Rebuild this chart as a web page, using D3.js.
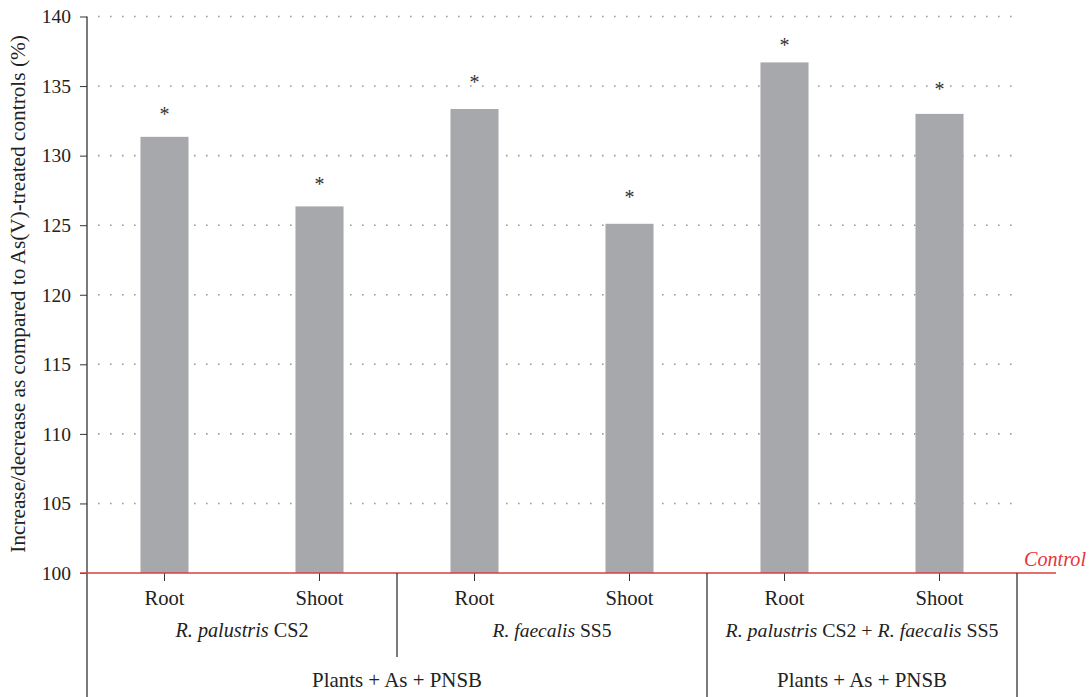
<!DOCTYPE html>
<html><head><meta charset="utf-8">
<script src="https://cdn.jsdelivr.net/npm/d3@7"></script>
<style>body{margin:0;background:#fff}svg{display:block;font-family:"Liberation Serif","Times New Roman",serif}</style>
</head><body><svg id="c" width="1090" height="697"></svg>
<script>
const categories = ["Root","Shoot","Root","Shoot","Root","Shoot"];
const values = [131.35, 126.35, 133.35, 125.1, 136.7, 133.0];
const starLevels = [133.2, 128.15, 135.5, 127.2, 138.15, 135.0];
const yTicks = [100,105,110,115,120,125,130,135,140];
const strains = [
  {label:[["R. palustris",true],[" CS2",false]], from:0, to:1},
  {label:[["R. faecalis",true],[" SS5",false]], from:2, to:3},
  {label:[["R. palustris",true],[" CS2 + ",false],["R. faecalis",true],[" SS5",false]], from:4, to:5}
];
const treatments = [
  {label:"Plants + As + PNSB", from:0, to:3},
  {label:"Plants + As + PNSB", from:4, to:5}
];
const yLabel = "Increase/decrease as compared to As(V)-treated controls (%)";

const FONT = "Liberation Serif";
const svg = d3.select("#c");
const L = 87, R = 1017, T = 16.5, B = 573;
const x = d3.scaleBand().domain(d3.range(categories.length)).range([L,R]).paddingInner(0.69).paddingOuter(0.345);
const y = d3.scaleLinear().domain([100,140]).range([B,T]);
const step = x.step();
const cx = i => x(i) + x.bandwidth()/2;

// fit a text element to a target width by adjusting font size
function fit(sel, w){
  const n = sel.node(); const len = n.getComputedTextLength();
  const fs = parseFloat(sel.attr("font-size"));
  if (len > 0) sel.attr("font-size", fs * w / len);
}

// gridlines
svg.append("g").selectAll("line").data(yTicks.filter(t=>t>100)).join("line")
  .attr("x1", L+11).attr("x2", R).attr("y1", d=>y(d)).attr("y2", d=>y(d))
  .attr("stroke","#9a9a9a").attr("stroke-width",1.6).attr("stroke-dasharray","1.6,10.4");

// bars
svg.append("g").selectAll("rect").data(values).join("rect")
  .attr("x",(d,i)=>x(i)).attr("width",x.bandwidth())
  .attr("y",d=>y(d)).attr("height",d=>y(100)-y(d)).attr("fill","#a7a8ab");

// stars
svg.append("g").selectAll("text").data(starLevels).join("text")
  .attr("x",(d,i)=>cx(i)).attr("y",d=>y(d)+9.5).attr("text-anchor","middle")
  .attr("font-family",FONT).attr("font-size",20).attr("fill","#333").text("*");

// y axis
const yAxis = d3.axisLeft(y).tickValues(yTicks).tickSize(7).tickPadding(9);
const gy = svg.append("g").attr("transform",`translate(${L},0)`).call(yAxis).attr("font-family",FONT);
gy.select(".domain").remove();
gy.selectAll(".tick line").attr("stroke","#333");
gy.selectAll(".tick text").attr("font-size",19.5).attr("fill","#222").attr("font-family",FONT);
svg.append("line").attr("x1",L).attr("x2",L).attr("y1",T).attr("y2",697).attr("stroke","#333").attr("stroke-width",1.3);

// x axis ticks and labels
const xAxis = d3.axisBottom(x).tickFormat(i=>categories[i]).tickSize(8).tickPadding(9.4);
const gx = svg.append("g").attr("transform",`translate(0,${B})`).call(xAxis).attr("font-family",FONT);
gx.select(".domain").remove();
gx.selectAll(".tick line").attr("stroke","#333");
gx.selectAll(".tick text").attr("font-size",20.6).attr("fill","#222").attr("font-family",FONT);

// control line
svg.append("line").attr("x1",L-7).attr("x2",1056).attr("y1",y(100)).attr("y2",y(100)).attr("stroke","#d9403f").attr("stroke-width",1.5);
const ctl = svg.append("text").attr("x",1086).attr("y",566).attr("text-anchor","end")
  .attr("font-family",FONT).attr("font-size",20).attr("font-style","italic").attr("fill","#e8333a").text("Control");
fit(ctl, 62);

// strain labels
const strainW = [133, 119, 273];
strains.forEach((s,k)=>{
  const mx = (cx(s.from)+cx(s.to))/2;
  const t = svg.append("text").attr("x",mx).attr("y",637).attr("text-anchor","middle")
    .attr("font-family",FONT).attr("font-size",20.3).attr("fill","#222");
  s.label.forEach(([txt,it])=>t.append("tspan").attr("font-style",it?"italic":"normal").text(txt));
  fit(t, strainW[k]);
});
// divider between strain 1 and 2
const div12 = cx(strains[0].to)+step/2;
svg.append("line").attr("x1",div12).attr("x2",div12).attr("y1",B).attr("y2",657).attr("stroke","#333").attr("stroke-width",1.3);

// treatment labels and dividers
treatments.forEach(tr=>{
  const x0 = cx(tr.from)-step/2, x1 = cx(tr.to)+step/2;
  const t = svg.append("text").attr("x",(x0+x1)/2).attr("y",687).attr("text-anchor","middle")
    .attr("font-family",FONT).attr("font-size",20.7).attr("fill","#222").text(tr.label);
  fit(t, 170);
  svg.append("line").attr("x1",x1).attr("x2",x1).attr("y1",B).attr("y2",697).attr("stroke","#333").attr("stroke-width",1.3);
});

// y label
const yl = svg.append("text").attr("transform",`translate(25,${(35+553)/2}) rotate(-90)`).attr("text-anchor","middle")
  .attr("font-family",FONT).attr("font-size",20).attr("fill","#222").text(yLabel);
fit(yl, 518);
</script></body></html>
